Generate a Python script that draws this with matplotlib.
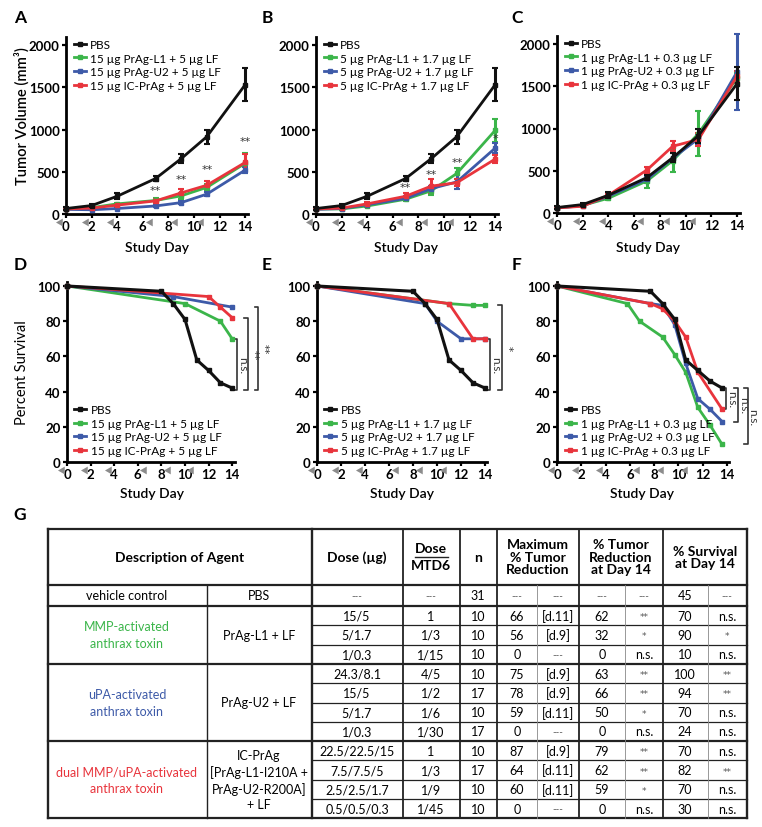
import numpy as np
import matplotlib
matplotlib.use("Agg")
import matplotlib.pyplot as plt
import matplotlib.transforms as mtransforms
from matplotlib.lines import Line2D

plt.rcParams['font.family'] = ['Lato', 'DejaVu Sans']

W, H = 762, 828
BLACK = '#111111'
GREEN = '#3bb54a'
BLUE = '#3d5aa8'
RED = '#e8343c'
GREY = '#8c8c8c'
STAR_FONT = ['DejaVu Sans']

# ---- tumor volume data (panels A-C) ----
days = [0, 2, 4, 7, 9, 11, 14]
pbs_vol = [65, 100, 210, 420, 655, 915, 1530]
pbs_err = [15, 20, 35, 35, 55, 85, 195]

a_green = [60, 75, 120, 160, 215, 315, 600]
a_green_err = [10, 10, 15, 30, 35, 40, 120]
a_blue = [55, 50, 65, 95, 135, 235, 520]
a_blue_err = [5, 5, 10, 10, 15, 25, 40]
a_red = [60, 70, 105, 155, 250, 340, 610]
a_red_err = [5, 10, 15, 25, 40, 50, 100]
a_stars_x = [7, 9, 11, 14]
a_stars_y = [220, 360, 470, 800]
a_stars = ['**', '**', '**', '**']

b_green = [60, 60, 95, 175, 275, 480, 990]
b_green_err = [5, 10, 15, 25, 45, 60, 140]
b_blue = [55, 65, 110, 185, 300, 380, 780]
b_blue_err = [5, 10, 15, 25, 35, 80, 60]
b_red = [60, 70, 120, 210, 330, 370, 650]
b_red_err = [5, 10, 20, 40, 80, 40, 50]
b_stars_x = [7, 9, 11, 14]
b_stars_y = [260, 420, 560, 840]
b_stars = ['**', '**', '**', '*']

c_green = [60, 90, 175, 380, 620, 940, 1600]
c_green_err = [5, 10, 25, 90, 130, 270, 60]
c_blue = [60, 85, 200, 400, 650, 880, 1670]
c_blue_err = [5, 10, 20, 40, 60, 60, 450]
c_red = [60, 80, 210, 510, 790, 870, 1620]
c_red_err = [5, 10, 20, 40, 60, 80, 60]

# ---- survival data (panels D-F) ----
pbs_sd = [0, 8, 9, 10, 11, 12, 13, 14]
pbs_sv = [100, 97, 90, 81, 58, 52, 45, 42]

d_green_d, d_green_v = [0, 10, 13, 14], [100, 90, 80, 70]
d_blue_d, d_blue_v = [0, 9, 14], [100, 94, 88]
d_red_d, d_red_v = [0, 12, 13, 14], [100, 94, 88, 82]

e_green_d, e_green_v = [0, 11, 13, 14], [100, 90, 89, 89]
e_blue_d, e_blue_v = [0, 9, 10, 12, 14], [100, 90, 80, 70, 70]
e_red_d, e_red_v = [0, 11, 13, 14], [100, 90, 70, 70]

f_pbs_d = [0, 7.7, 8.7, 9.7, 10.6, 11.6, 12.6, 13.6]
f_pbs_v = [100, 97, 90, 81, 58, 52, 46, 42]
f_green_d = [0, 5.8, 6.8, 8.7, 9.7, 10.6, 11.6, 12.6, 13.6]
f_green_v = [100, 90, 80, 71, 61, 51, 31, 21, 10]
f_blue_d = [0, 7.7, 8.7, 9.7, 10.6, 11.6, 12.6, 13.6]
f_blue_v = [100, 90, 89, 78, 56, 36, 30, 23]
f_red_d = [0, 7.7, 8.7, 9.7, 10.6, 11.6, 13.6]
f_red_v = [100, 90, 87, 80, 71, 51, 30]

treat_days = [0, 2, 4, 7, 9, 11]

a_labels = ['PBS', '15 µg PrAg-L1 + 5 µg LF', '15 µg PrAg-U2 + 5 µg LF', '15 µg IC-PrAg + 5 µg LF']
b_labels = ['PBS', '5 µg PrAg-L1 + 1.7 µg LF', '5 µg PrAg-U2 + 1.7 µg LF', '5 µg IC-PrAg + 1.7 µg LF']
c_labels = ['PBS', '1 µg PrAg-L1 + 0.3 µg LF', '1 µg PrAg-U2 + 0.3 µg LF', '1 µg IC-PrAg + 0.3 µg LF']

# brackets: (x position, top value, bottom value, label)
d_brackets = [(14.4, 70, 41, 'n.s.'), (15.3, 82, 41, '**'), (16.2, 88, 41, '**')]
e_brackets = [(14.4, 70, 41, 'n.s.'), (15.4, 89, 41, '*')]
f_brackets = [(13.9, 42, 30, 'n.s.'), (14.9, 42, 23, 'n.s.'), (15.7, 42, 10, 'n.s.')]

# ---- table G ----
dose = ['---', '15/5', '5/1.7', '1/0.3', '24.3/8.1', '15/5', '5/1.7', '1/0.3',
        '22.5/22.5/15', '7.5/7.5/5', '2.5/2.5/1.7', '0.5/0.5/0.3']
mtd = ['---', '1', '1/3', '1/15', '4/5', '1/2', '1/6', '1/30', '1', '1/3', '1/9', '1/45']
n_mice = ['31', '10', '10', '10', '10', '17', '10', '17', '10', '17', '10', '10']
max_red = ['---', '66', '56', '0', '75', '78', '59', '0', '87', '64', '60', '0']
max_day = ['---', '[d.11]', '[d.9]', '---', '[d.9]', '[d.9]', '[d.11]', '---',
           '[d.9]', '[d.11]', '[d.11]', '---']
red14 = ['---', '62', '32', '0', '63', '66', '50', '0', '79', '62', '59', '0']
red14_sig = ['---', '**', '*', 'n.s.', '**', '**', '*', 'n.s.', '**', '**', '*', 'n.s.']
surv14 = ['45', '70', '90', '10', '100', '94', '70', '24', '70', '82', '70', '30']
surv14_sig = ['---', 'n.s.', '*', 'n.s.', '**', '**', 'n.s.', 'n.s.', 'n.s.', '**', 'n.s.', 'n.s.']


fig = plt.figure(figsize=(W / 100, H / 100), dpi=100)


def px_axes(left, top, right, bottom):
    return fig.add_axes([left / W, 1 - bottom / H, (right - left) / W, (bottom - top) / H])


def style_axes(ax):
    for s in ['top', 'right']:
        ax.spines[s].set_visible(False)
    for s in ['left', 'bottom']:
        ax.spines[s].set_linewidth(2)
    ax.tick_params(width=1.6, length=3, labelsize=9.5, pad=1.5)
    for lab in ax.get_xticklabels() + ax.get_yticklabels():
        lab.set_fontweight('bold')
    ax.patch.set_alpha(0)


def arrows(ax):
    tr = mtransforms.blended_transform_factory(ax.transData, ax.transAxes)
    ax.plot([d - 0.45 for d in treat_days], [-0.045] * len(treat_days), ls='none',
            marker=(3, 0, -150), ms=6.5, color=GREY, mec='none', transform=tr, clip_on=False)


def legend(ax, handles, labels, loc, anchor):
    ax.legend(handles, labels, loc=loc, bbox_to_anchor=anchor, frameon=False,
              fontsize=8.5, handlelength=1.0, handletextpad=0.4, labelspacing=0.22,
              borderaxespad=0, borderpad=0.2)


def tumor_panel(left, bottom, pxday, series, labels, stars=None):
    top = bottom - 2100 * 169 / 2000
    ax = px_axes(left, top, left + 14.2 * pxday, bottom)
    for i in [1, 2, 3, 0]:
        y, e, c = series[i]
        z = 5 if i == 0 else 3
        ax.errorbar(days, y, yerr=e, color=c, lw=2, marker='s', ms=3.5, elinewidth=2.2,
                    capsize=2, capthick=1.5, zorder=z, clip_on=False)
    handles = [Line2D([], [], color=s[2], lw=2, marker='s', ms=3.5) for s in series]
    ax.set_xlim(0, 14.2)
    ax.set_ylim(0, 2100)
    ax.set_xticks(range(0, 15, 2))
    ax.set_yticks([0, 500, 1000, 1500, 2000])
    style_axes(ax)
    legend(ax, handles, labels, 'upper left', (0.03, 1.0))
    if stars:
        for x, y, s in zip(*stars):
            ax.text(x, y, s, ha='center', va='bottom', fontsize=8, color='#333333',
                    family=STAR_FONT)
    arrows(ax)
    return ax


def surv_panel(left, bottom, pxday, series, labels, brackets):
    top = bottom - 102 * 1.76
    ax = px_axes(left, top, left + 14.2 * pxday, bottom)
    for i in [1, 2, 3, 0]:
        d, v, c = series[i]
        ax.plot(d, v, color=c, lw=2.2 if i == 0 else 2, marker='s', ms=3.5,
                zorder=5 if i == 0 else 3, clip_on=False)
    handles = [Line2D([], [], color=s[2], lw=2, marker='s', ms=3.5) for s in series]
    ax.set_xlim(0, 14.2)
    ax.set_ylim(0, 102)
    ax.set_xticks(range(0, 15, 2))
    ax.set_yticks(range(0, 101, 20))
    style_axes(ax)
    legend(ax, handles, labels, 'lower left', (0.03, 0.02))
    for x, y1, y0, lab in brackets:
        ax.plot([x - 0.3, x, x, x - 0.3], [y1, y1, y0, y0], color='#333333', lw=1.2,
                clip_on=False)
        if lab.startswith('*'):
            ax.text(x + 0.5, (y1 + y0) / 2, lab, rotation=-90, ha='center', va='center',
                    fontsize=7.5, color='#333333', clip_on=False, family=STAR_FONT)
        else:
            ax.text(x + 0.45, (y1 + y0) / 2, lab, rotation=-90, ha='center', va='center',
                    fontsize=8.5, color='#333333', clip_on=False)
    arrows(ax)
    return ax


tumor_panel(66, 215, 12.8,
            [(pbs_vol, pbs_err, BLACK), (a_green, a_green_err, GREEN),
             (a_blue, a_blue_err, BLUE), (a_red, a_red_err, RED)],
            a_labels, (a_stars_x, a_stars_y, a_stars))
tumor_panel(316, 215, 12.8,
            [(pbs_vol, pbs_err, BLACK), (b_green, b_green_err, GREEN),
             (b_blue, b_blue_err, BLUE), (b_red, b_red_err, RED)],
            b_labels, (b_stars_x, b_stars_y, b_stars))
tumor_panel(557, 214, 12.86,
            [(pbs_vol, pbs_err, BLACK), (c_green, c_green_err, GREEN),
             (c_blue, c_blue_err, BLUE), (c_red, c_red_err, RED)],
            c_labels)

surv_panel(67, 463, 11.8,
           [(pbs_sd, pbs_sv, BLACK), (d_green_d, d_green_v, GREEN),
            (d_blue_d, d_blue_v, BLUE), (d_red_d, d_red_v, RED)],
           a_labels, d_brackets)
surv_panel(317, 463, 12.0,
           [(pbs_sd, pbs_sv, BLACK), (e_green_d, e_green_v, GREEN),
            (e_blue_d, e_blue_v, BLUE), (e_red_d, e_red_v, RED)],
           b_labels, e_brackets)
surv_panel(557, 463, 12.14,
           [(f_pbs_d, f_pbs_v, BLACK), (f_green_d, f_green_v, GREEN),
            (f_blue_d, f_blue_v, BLUE), (f_red_d, f_red_v, RED)],
           c_labels, f_brackets)

# panel letters and axis titles
for lab, x, y in [('A', 20, 18), ('B', 267, 18), ('C', 517, 18),
                  ('D', 20, 265), ('E', 267, 265), ('F', 517, 265), ('G', 20, 515)]:
    fig.text(x / W, 1 - y / H, lab, fontsize=12.5, fontweight='bold', ha='center', va='center')
fig.text(22 / W, 1 - 116 / H, 'Tumor Volume (mm³)', rotation=90, fontsize=10.5,
         fontweight='semibold', ha='center', va='center')
fig.text(22 / W, 1 - 373 / H, 'Percent Survival', rotation=90, fontsize=10.5,
         ha='center', va='center')
for x in [157, 406, 648]:
    fig.text(x / W, 1 - 248 / H, 'Study Day', fontsize=10, fontweight='semibold',
             ha='center', va='center')
for x in [152, 402, 642]:
    fig.text(x / W, 1 - 494 / H, 'Study Day', fontsize=10, fontweight='semibold',
             ha='center', va='center')

# ---- table ----
tb = fig.add_axes([0, 0, 1, 1], zorder=-1)
tb.set_xlim(0, W)
tb.set_ylim(H, 0)
tb.axis('off')

L, R = 48, 747
y_top, y_head, y_pbs = 530, 586, 607
rh = 19.3
row_y = [y_pbs + rh * i for i in range(12)]
bottom = row_y[-1]
lc = '#222222'

for y in [y_top, y_head, y_pbs, row_y[3], row_y[7], bottom]:
    tb.plot([L, R], [y, y], color=lc, lw=1.6)
for i in range(1, 11):
    if i in (3, 7):
        continue
    tb.plot([312, R], [row_y[i], row_y[i]], color=lc, lw=0.9)
for x in [L, R, 312]:
    tb.plot([x, x], [y_top, bottom], color=lc, lw=1.7)
for x in [403, 460, 497, 579, 663]:
    tb.plot([x, x], [y_top, bottom], color=lc, lw=1.3)
tb.plot([207, 207], [y_head, bottom], color=lc, lw=1.0)
for x in [537, 625, 708]:
    tb.plot([x, x], [y_head, bottom], color='#888888', lw=0.6)

hy = (y_top + y_head) / 2
hkw = dict(fontsize=10, fontweight='bold', ha='center', va='center', linespacing=1.05)
tb.text(180, hy, 'Description of Agent', **hkw)
tb.text(357, hy, 'Dose (µg)', **hkw)
tb.text(431, hy - 9, 'Dose', **hkw)
tb.plot([415, 448], [hy, hy], color=lc, lw=1)
tb.text(431, hy + 8, 'MTD6', **hkw)
tb.text(478, hy, 'n', **hkw)
tb.text(538, hy, 'Maximum\n% Tumor\nReduction', **hkw)
tb.text(621, hy, '% Tumor\nReduction\nat Day 14', **hkw)
tb.text(705, hy, '% Survival\nat Day 14', **hkw)

bkw = dict(fontsize=9, ha='center', va='center', linespacing=1.5)
tb.text(127, (y_head + y_pbs) / 2, 'vehicle control', **bkw)
tb.text(259, (y_head + y_pbs) / 2, 'PBS', **bkw)
tb.text(127, (row_y[0] + row_y[3]) / 2, 'MMP-activated\nanthrax toxin', color=GREEN, **bkw)
tb.text(259, (row_y[0] + row_y[3]) / 2, 'PrAg-L1 + LF', **bkw)
tb.text(127, (row_y[3] + row_y[7]) / 2, 'uPA-activated\nanthrax toxin', color=BLUE, **bkw)
tb.text(259, (row_y[3] + row_y[7]) / 2, 'PrAg-U2 + LF', **bkw)
tb.text(127, (row_y[7] + bottom) / 2, 'dual MMP/uPA-activated\nanthrax toxin', color=RED, **bkw)
tb.text(259, (row_y[7] + bottom) / 2, 'IC-PrAg\n[PrAg-L1-I210A +\nPrAg-U2-R200A]\n+ LF',
        fontsize=9, ha='center', va='center', linespacing=1.36)

col_x = [357, 431, 478, 517, 558, 602, 644, 685, 727]
cols = [dose, mtd, n_mice, max_red, max_day, red14, red14_sig, surv14, surv14_sig]
centers = [(y_head + y_pbs) / 2] + [row_y[i] + rh / 2 for i in range(11)]
for x, col in zip(col_x, cols):
    for y, s in zip(centers, col):
        if s == '---':
            tb.text(x, y, s, fontsize=7, ha='center', va='center', color='#555555')
        elif s.startswith('*'):
            tb.text(x, y + 1, s, fontsize=6.5, ha='center', va='center', color='#555555',
                    family=STAR_FONT)
        else:
            tb.text(x, y, s, fontsize=9, ha='center', va='center')

fig.savefig('out.png', dpi=100)
